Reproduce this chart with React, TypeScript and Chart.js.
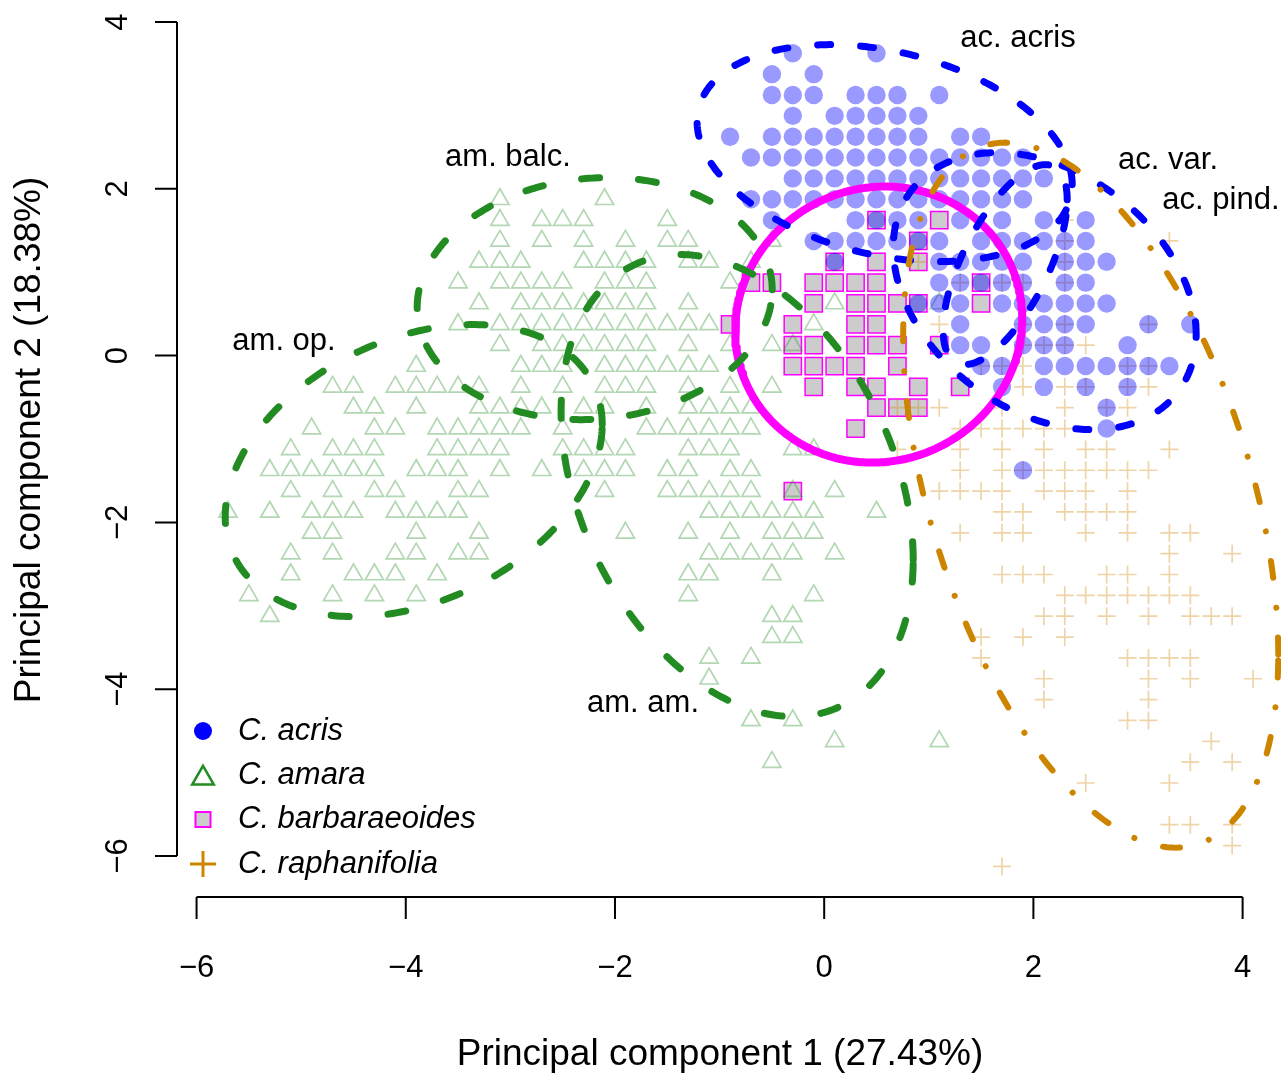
import React, { useEffect, useRef } from "react";
import { Chart, registerables } from "chart.js";

Chart.register(...registerables);

// ---------- axis / text data ----------
const xTicks = [-6, -4, -2, 0, 2, 4];
const yTicks = [-6, -4, -2, 0, 2, 4];
const xTitle = "Principal component 1 (27.43%)";
const yTitle = "Principal component 2 (18.38%)";

const legendNames = ["C. acris", "C. amara", "C. barbaraeoides", "C. raphanifolia"];

const groupLabels = ["ac. acris", "ac. var.", "ac. pind.", "am. balc.", "am. op.", "am. am."];
const groupLabelX = [1.853, 3.287, 3.793, -3.023, -5.164, -1.732];
const groupLabelY = [3.808, 2.345, 1.866, 2.381, 0.175, -4.177];

// ---------- point data: [PC2 value, list of PC1 values] ----------
const acrisRows: [number, number[]][] = [
  [3.625, [-0.3, 0.5]],
  [3.375, [-0.5, -0.1]],
  [3.125, [-0.5, -0.3, -0.1, 0.3, 0.5, 0.7, 1.1]],
  [2.875, [-0.3, 0.1, 0.3, 0.5, 0.7, 0.9]],
  [2.625, [-0.9, -0.5, -0.3, -0.1, 0.1, 0.3, 0.5, 0.7, 0.9, 1.3, 1.5]],
  [2.375, [-0.7, -0.5, -0.3, -0.1, 0.1, 0.3, 0.5, 0.7, 0.9, 1.1, 1.3, 1.5, 1.7, 1.9]],
  [2.125, [-0.3, -0.1, 0.1, 0.3, 0.5, 0.7, 0.9, 1.1, 1.3, 1.5, 1.7, 1.9, 2.1]],
  [1.875, [-0.7, -0.5, -0.3, -0.1, 0.1, 0.3, 0.5, 0.7, 0.9, 1.1, 1.3, 1.5, 1.7, 1.9]],
  [1.625, [-0.5, 0.3, 0.5, 0.7, 0.9, 1.3, 1.7, 2.1, 2.5]],
  [1.375, [-0.1, 0.1, 0.3, 0.5, 0.7, 0.9, 1.1, 1.5, 1.7, 1.9, 2.1, 2.3, 2.5]],
  [1.125, [0.1, 1.1, 1.3, 1.5, 1.7, 1.9, 2.3, 2.5, 2.7]],
  [0.875, [1.1, 1.3, 1.5, 1.7, 1.9, 2.3, 2.5]],
  [0.625, [0.9, 1.1, 1.3, 1.7, 1.9, 2.1, 2.3, 2.5, 2.7]],
  [0.375, [1.3, 1.9, 2.1, 2.3, 2.5, 3.1, 3.5]],
  [0.125, [1.3, 1.5, 1.9, 2.1, 2.3, 2.9]],
  [-0.125, [1.5, 1.7, 2.1, 2.3, 2.5, 2.7, 2.9, 3.1, 3.3]],
  [-0.375, [1.7, 2.1, 2.5, 2.9]],
  [-0.625, [2.7]],
  [-0.875, [2.7]],
  [-1.375, [1.9]],
];

const amaraRows: [number, number[]][] = [
  [1.875, [-3.1, -2.1]],
  [1.625, [-3.1, -2.7, -2.5, -2.3, -1.5]],
  [1.375, [-3.1, -2.7, -2.3, -1.9, -1.5, -1.3, -0.5]],
  [1.125, [-3.3, -3.1, -2.9, -2.3, -2.1, -1.9, -1.7, -1.3, -1.1, -0.7]],
  [0.875, [-3.5, -3.1, -2.9, -2.7, -2.5, -2.1, -1.9, -1.7, -0.9]],
  [0.625, [-3.3, -2.9, -2.7, -2.5, -2.3, -2.1, -1.9, -1.7, -1.3, 0.1, 1.1]],
  [0.375, [-3.5, -3.1, -2.9, -2.7, -2.5, -2.3, -2.1, -1.9, -1.7, -1.5, -1.3, -1.1, -0.1]],
  [0.125, [-3.1, -2.7, -2.5, -2.3, -2.1, -1.9, -1.7, -1.3, -0.9, -0.5, -0.3]],
  [-0.125, [-3.9, -2.9, -2.7, -2.5, -2.1, -1.9, -1.7, -1.5, -1.3, -1.1]],
  [-0.375, [-4.7, -4.5, -4.1, -3.9, -3.7, -3.5, -3.3, -2.9, -2.5, -2.1, -1.9, -1.7, -1.3, -0.9, -0.5]],
  [-0.625, [-4.5, -4.3, -3.9, -3.3, -3.1, -2.9, -2.7, -2.3, -2.1, -1.7, -1.3, -1.1, -0.9, -0.7]],
  [-0.875, [-4.9, -4.3, -4.1, -3.7, -3.5, -3.3, -3.1, -2.9, -2.5, -1.7, -1.5, -1.3, -1.1, -0.9, -0.7]],
  [-1.125, [-5.1, -4.7, -4.5, -4.3, -3.7, -3.5, -3.3, -3.1, -2.5, -2.3, -2.1, -1.9, -1.3, -1.1, -0.9, -0.3, -0.1]],
  [-1.375, [-5.3, -5.1, -4.9, -4.7, -4.5, -4.3, -3.9, -3.7, -3.5, -3.1, -2.7, -2.3, -2.1, -1.9, -1.5, -1.3, -0.9, -0.7]],
  [-1.625, [-5.1, -4.7, -4.3, -4.1, -3.5, -3.3, -2.1, -1.5, -1.3, -1.1, -0.9, -0.7, -0.3, 0.1]],
  [-1.875, [-5.7, -5.3, -4.9, -4.7, -4.5, -4.1, -3.9, -3.7, -3.5, -1.1, -0.9, -0.7, -0.5, -0.3, -0.1, 0.5]],
  [-2.125, [-4.9, -4.7, -3.9, -3.3, -1.9, -1.3, -0.9, -0.5, -0.3, -0.1]],
  [-2.375, [-5.1, -4.7, -4.1, -3.9, -3.5, -3.3, -1.1, -0.9, -0.7, -0.5, -0.3, 0.1]],
  [-2.625, [-5.1, -4.5, -4.3, -4.1, -3.7, -1.3, -1.1, -0.5]],
  [-2.875, [-5.5, -4.7, -4.3, -3.9, -1.3, -0.1]],
  [-3.125, [-5.3, -0.5, -0.3]],
  [-3.375, [-0.5, -0.3]],
  [-3.625, [-1.1, -0.7]],
  [-3.875, [-1.1]],
  [-4.375, [-0.7, -0.3]],
  [-4.625, [0.1, 1.1]],
  [-4.875, [-0.5]],
];

const barbRows: [number, number[]][] = [
  [1.625, [0.5, 1.1]],
  [1.375, [0.9]],
  [1.125, [0.1, 0.5, 0.9]],
  [0.875, [-0.7, -0.5, -0.1, 0.1, 0.3, 0.5, 1.5]],
  [0.625, [-0.1, 0.3, 0.5, 0.7, 0.9, 1.5]],
  [0.375, [-0.9, -0.3, 0.3, 0.5]],
  [0.125, [-0.3, -0.1, 0.3, 0.5, 0.7, 1.1]],
  [-0.125, [-0.3, -0.1, 0.1, 0.3, 0.7]],
  [-0.375, [-0.1, 0.3, 0.5, 0.9, 1.3]],
  [-0.625, [0.5, 0.7, 0.9]],
  [-0.875, [0.3]],
  [-1.625, [-0.3]],
];

const raphRows: [number, number[]][] = [
  [1.625, [2.3]],
  [1.375, [2.3, 3.3]],
  [1.125, [0.9, 2.3]],
  [0.875, [1.3, 1.7, 1.9, 2.3]],
  [0.375, [1.1, 1.9, 2.3, 3.1]],
  [0.125, [1.9, 2.1, 2.3, 2.5]],
  [-0.125, [1.5, 1.7, 1.9, 2.9, 3.1]],
  [-0.375, [1.9, 2.3, 2.5, 2.9, 3.1]],
  [-0.625, [0.7, 0.9, 1.1, 1.7, 2.3, 2.7, 2.9]],
  [-0.875, [1.3, 1.5, 1.7, 1.9, 2.1, 2.3]],
  [-1.125, [0.7, 1.3, 1.7, 2.1, 2.5, 2.7, 3.3]],
  [-1.375, [1.3, 1.7, 1.9, 2.1, 2.3, 2.5, 2.7, 2.9, 3.1]],
  [-1.625, [1.1, 1.3, 1.5, 1.7, 2.1, 2.3, 2.5, 2.9]],
  [-1.875, [1.7, 1.9, 2.3, 2.5, 2.7, 2.9]],
  [-2.125, [1.3, 1.7, 1.9, 2.5, 2.9, 3.3, 3.5]],
  [-2.375, [3.3, 3.9]],
  [-2.625, [1.7, 1.9, 2.1, 2.7, 2.9, 3.3]],
  [-2.875, [2.3, 2.5, 2.7, 2.9, 3.1, 3.3, 3.5]],
  [-3.125, [2.1, 2.3, 2.7, 3.1, 3.5, 3.7, 3.9]],
  [-3.375, [1.5, 1.9, 2.3]],
  [-3.625, [1.5, 2.9, 3.1, 3.3, 3.5]],
  [-3.875, [2.1, 3.1, 3.5, 4.1]],
  [-4.125, [2.1, 3.1]],
  [-4.375, [2.9, 3.1]],
  [-4.625, [3.7]],
  [-4.875, [3.5, 3.9]],
  [-5.125, [2.5, 3.3]],
  [-5.625, [3.3, 3.5, 3.9]],
  [-5.875, [3.9]],
  [-6.125, [1.7]],
];

// ---------- group ellipses: [species, centreX, centreY, halfWidth, halfHeight, phaseDeg] ----------
const ellipseParams: [string, number, number, number, number, number][] = [
  ["barb", 0.521, 0.372, 1.372, 1.655, 87.4],
  ["amara", -2.194, 0.683, 1.697, 1.451, 85.8],
  ["amara", -3.924, -1.379, 1.802, 1.751, 71.6],
  ["amara", -0.832, -1.559, 1.683, 2.77, 108.7],
  ["acris", 0.578, 2.428, 1.793, 1.301, 106.9],
  ["acris", 2.108, 0.773, 1.448, 1.661, 108.3],
  ["acris", 1.73, 1.091, 0.593, 1.199, 49.5],
  ["raph", 2.548, -1.673, 1.793, 4.227, 116.9],
];

// ---------- styles ----------
const ellipseStyle: Record<string, { color: string; width: number; dash: number[] }> = {
  barb: { color: "#FF00FF", width: 8, dash: [] },
  amara: { color: "#228B22", width: 7, dash: [18, 39] },
  acris: { color: "#0000FF", width: 7, dash: [13, 30] },
  raph: { color: "#CD8500", width: 6, dash: [17, 30, 0.01, 30] },
};

const FONT = "'Liberation Sans', Arial, Helvetica, sans-serif";

const toPoints = (rows: [number, number[]][]) =>
  rows.flatMap(([y, xs]) => xs.map((x) => ({ x, y })));

const ellipsePoints = (cx: number, cy: number, ax: number, ay: number, phaseDeg: number) => {
  const ph = (phaseDeg * Math.PI) / 180;
  const pts: { x: number; y: number }[] = [];
  const n = 360;
  for (let i = 0; i <= n; i++) {
    const t = (i / n) * 2 * Math.PI;
    pts.push({ x: cx + ax * Math.cos(t), y: cy + ay * Math.cos(t - ph) });
  }
  return pts;
};

const rStylePlugin = {
  id: "rStyle",
  afterDraw(chart: any) {
    const { ctx, chartArea } = chart;
    const xs = chart.scales.x;
    const ys = chart.scales.y;
    ctx.save();
    ctx.strokeStyle = "#000";
    ctx.fillStyle = "#000";
    ctx.lineWidth = 2;
    const TICK = 22;
    const xb = chartArea.bottom;
    const yl = chartArea.left;
    // x axis
    ctx.beginPath();
    ctx.moveTo(xs.getPixelForValue(xTicks[0]), xb);
    ctx.lineTo(xs.getPixelForValue(xTicks[xTicks.length - 1]), xb);
    xTicks.forEach((v) => {
      const p = xs.getPixelForValue(v);
      ctx.moveTo(p, xb);
      ctx.lineTo(p, xb + TICK);
    });
    // y axis
    ctx.moveTo(yl, ys.getPixelForValue(yTicks[0]));
    ctx.lineTo(yl, ys.getPixelForValue(yTicks[yTicks.length - 1]));
    yTicks.forEach((v) => {
      const p = ys.getPixelForValue(v);
      ctx.moveTo(yl, p);
      ctx.lineTo(yl - TICK, p);
    });
    ctx.stroke();

    const fmt = (v: number) => (v < 0 ? "\u2212" + Math.abs(v) : String(v));
    ctx.font = `31px ${FONT}`;
    ctx.textAlign = "center";
    ctx.textBaseline = "middle";
    xTicks.forEach((v) => {
      ctx.fillText(fmt(v), xs.getPixelForValue(v), xb + 71);
    });
    yTicks.forEach((v) => {
      ctx.save();
      ctx.translate(yl - 59, ys.getPixelForValue(v));
      ctx.rotate(-Math.PI / 2);
      ctx.fillText(fmt(v), 0, 0);
      ctx.restore();
    });
    // titles
    ctx.font = `37px ${FONT}`;
    ctx.fillText(xTitle, 720, xb + 158);
    ctx.save();
    ctx.translate(30, 440);
    ctx.rotate(-Math.PI / 2);
    ctx.fillText(yTitle, 0, 0);
    ctx.restore();

    // group labels
    ctx.font = `31px ${FONT}`;
    groupLabels.forEach((t, i) => {
      ctx.fillText(t, xs.getPixelForValue(groupLabelX[i]), ys.getPixelForValue(groupLabelY[i]));
    });

    // legend
    const lx = chartArea.left + 26;
    const ly0 = 731;
    const dy = 44.3;
    ctx.fillStyle = "#0000FF";
    ctx.beginPath();
    ctx.arc(lx, ly0, 9, 0, Math.PI * 2);
    ctx.fill();
    ctx.strokeStyle = "#228B22";
    ctx.lineWidth = 2.5;
    const r = 12.5;
    const ty = ly0 + dy + 3;
    ctx.beginPath();
    ctx.moveTo(lx, ty - r);
    ctx.lineTo(lx + r * Math.sin((2 * Math.PI) / 3), ty + r / 2);
    ctx.lineTo(lx - r * Math.sin((2 * Math.PI) / 3), ty + r / 2);
    ctx.closePath();
    ctx.stroke();
    ctx.fillStyle = "#CCCCCC";
    ctx.strokeStyle = "#FF00FF";
    ctx.lineWidth = 2;
    ctx.beginPath();
    ctx.rect(lx - 7.5, ly0 + 2 * dy - 7.5, 15, 15);
    ctx.fill();
    ctx.stroke();
    ctx.strokeStyle = "#CD8500";
    ctx.lineWidth = 3;
    ctx.beginPath();
    ctx.moveTo(lx - 13, ly0 + 3 * dy);
    ctx.lineTo(lx + 13, ly0 + 3 * dy);
    ctx.moveTo(lx, ly0 + 3 * dy - 13);
    ctx.lineTo(lx, ly0 + 3 * dy + 13);
    ctx.stroke();
    ctx.fillStyle = "#000";
    ctx.font = `italic 31px ${FONT}`;
    ctx.textAlign = "left";
    legendNames.forEach((n, i) => {
      ctx.fillText(n, lx + 35, ly0 + i * dy);
    });
    ctx.restore();
  },
};

export default function App() {
  const canvasRef = useRef<HTMLCanvasElement | null>(null);

  useEffect(() => {
    if (!canvasRef.current) return;
    const ellipseSets = ellipseParams.map(([sp, cx, cy, ax, ay, ph], i) => {
      const st = ellipseStyle[sp];
      const order = sp === "raph" ? 0 : sp === "acris" ? 1 : sp === "amara" ? 2 : 3;
      return {
        type: "line" as const,
        label: "ellipse" + i,
        data: ellipsePoints(cx, cy, ax, ay, ph),
        showLine: true,
        borderColor: st.color,
        borderWidth: st.width,
        borderDash: st.dash,
        borderCapStyle: "round" as const,
        borderJoinStyle: "round" as const,
        pointRadius: 0,
        fill: false,
        tension: 0,
        clip: false as any,
        order,
      };
    });

    const chart = new Chart(canvasRef.current, {
      type: "scatter",
      data: {
        datasets: [
          ...ellipseSets,
          {
            label: "C. acris",
            data: toPoints(acrisRows),
            pointStyle: "circle",
            pointRadius: 9.2,
            backgroundColor: "rgba(0,0,255,0.4)",
            borderWidth: 0,
            borderColor: "rgba(0,0,0,0)",
            clip: false as any,
            order: 10,
          },
          {
            label: "C. raphanifolia",
            data: toPoints(raphRows),
            pointStyle: "cross",
            pointRadius: 9,
            borderColor: "rgba(205,133,0,0.35)",
            borderWidth: 1.7,
            clip: false as any,
            order: 11,
          },
          {
            label: "C. amara",
            data: toPoints(amaraRows),
            pointStyle: "triangle",
            pointRadius: 10.5,
            backgroundColor: "rgba(0,0,0,0)",
            borderColor: "rgba(34,139,34,0.35)",
            borderWidth: 1.7,
            clip: false as any,
            order: 12,
          },
          {
            label: "C. barbaraeoides",
            data: toPoints(barbRows),
            pointStyle: "rect",
            pointRadius: 12.2,
            backgroundColor: "#CCCCCC",
            borderColor: "#FF00FF",
            borderWidth: 1.5,
            clip: false as any,
            order: 13,
          },
        ] as any,
      },
      options: {
        responsive: false,
        maintainAspectRatio: false,
        devicePixelRatio: 1,
        animation: false,
        events: [],
        layout: { autoPadding: false, padding: { left: 177, right: 0, top: 0, bottom: 178 } } as any,
        scales: {
          x: { type: "linear", min: -6.187, max: 4.367, display: false },
          y: { type: "linear", min: -6.492, max: 4.264, display: false },
        },
        plugins: {
          legend: { display: false },
          tooltip: { enabled: false },
        },
      },
      plugins: [rStylePlugin],
    });
    return () => chart.destroy();
  }, []);

  return (
    <div style={{ position: "absolute", left: 0, top: 0, width: 1281, height: 1075, background: "#fff" }}>
      <canvas ref={canvasRef} width={1281} height={1075} style={{ display: "block" }} />
    </div>
  );
}
